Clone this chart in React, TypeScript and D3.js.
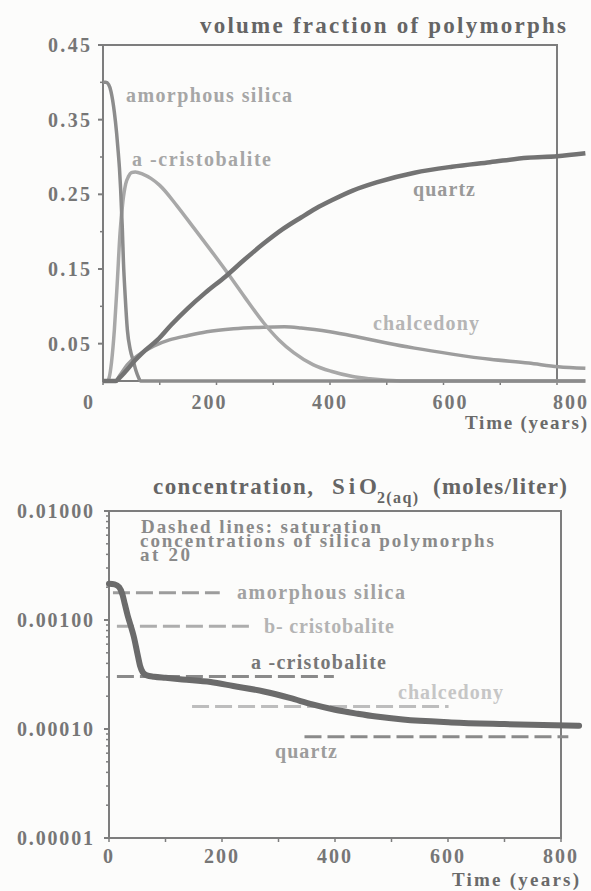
import React from 'react';
import * as d3 from 'd3';

// ---------- Top chart: volume fraction of polymorphs ----------
const amorphousT = [0, 5, 10, 14, 17, 20, 24, 27, 29, 31, 34, 36, 39, 43, 48, 53, 58, 63, 66, 100, 300, 500, 850];
const amorphousV = [0.40, 0.40, 0.397, 0.388, 0.376, 0.36, 0.332, 0.305, 0.285, 0.258, 0.205, 0.16, 0.115, 0.068, 0.042, 0.028, 0.014, 0.004, 0, 0, 0, 0, 0];

const alphaCrisT = [0, 8, 11, 15, 20, 25, 30, 35, 40, 45, 50, 57, 70, 85, 100, 130, 160, 190, 223, 250, 283, 310, 336, 370, 402, 440, 470, 500, 530, 850];
const alphaCrisV = [0, 0, 0.005, 0.025, 0.068, 0.13, 0.198, 0.24, 0.264, 0.274, 0.279, 0.28, 0.277, 0.271, 0.262, 0.235, 0.205, 0.175, 0.141, 0.112, 0.078, 0.055, 0.038, 0.022, 0.013, 0.006, 0.003, 0.001, 0, 0];

const quartzT = [0, 22, 30, 40, 57, 70, 96, 120, 149, 180, 216, 250, 283, 316, 349, 375, 403, 440, 482, 549, 615, 682, 748, 800, 850];
const quartzV = [0, 0, 0.005, 0.013, 0.028, 0.038, 0.055, 0.075, 0.097, 0.118, 0.14, 0.163, 0.184, 0.203, 0.219, 0.231, 0.242, 0.255, 0.266, 0.279, 0.287, 0.293, 0.299, 0.301, 0.305];

const chalcedonyT = [0, 22, 30, 43, 63, 90, 117, 150, 183, 230, 283, 320, 349, 400, 449, 500, 549, 615, 682, 750, 802, 850];
const chalcedonyV = [0, 0, 0.008, 0.022, 0.035, 0.047, 0.055, 0.061, 0.066, 0.070, 0.072, 0.0725, 0.071, 0.066, 0.059, 0.051, 0.044, 0.036, 0.029, 0.024, 0.019, 0.017];

const topYTicks = [0.05, 0.15, 0.25, 0.35, 0.45];
const topYMinor = [0.10, 0.20, 0.30, 0.40];
const xTickLabels = [0, 200, 400, 600, 800];
const xTickAll = [0, 100, 200, 300, 400, 500, 600, 700, 800];

// ---------- Bottom chart: SiO2(aq) concentration ----------
const concT = [0, 10, 18, 24, 28, 33, 38, 44, 50, 55, 60, 67, 80, 100, 130, 180, 220, 274, 320, 360, 400, 440, 473, 520, 606, 700, 832];
const concV = [0.00215, 0.00212, 0.0020, 0.0017, 0.0014, 0.0011, 0.0009, 0.0007, 0.0005, 0.00038, 0.00033, 0.00031, 0.000302, 0.000295, 0.000285, 0.00027, 0.000248, 0.000221, 0.000193, 0.000168, 0.00015, 0.000138, 0.00013, 0.000122, 0.000115, 0.000111, 0.000107];

const satNames = ['amorphous  silica', 'b- cristobalite', 'a  -cristobalite', 'chalcedony', 'quartz'];
const satValues = [0.00178, 0.000875, 0.000303, 0.000161, 0.0000851];
const satStart = [7, 14, 14, 147, 346];
const satEnd = [196, 251, 398, 601, 813];

const botYTicks = [0.00001, 0.0001, 0.001, 0.01];

const FONT = 'Liberation Serif, Times New Roman, serif';

export default function App() {
  const xTop = d3.scaleLinear().domain([0, 800]).range([103, 557]);
  const xTopLab = d3.scaleLinear().domain([0, 800]).range([89, 571]);
  const yTop = d3.scaleLinear().domain([0, 0.45]).range([381, 45]);

  const xBot = d3.scaleLinear().domain([0, 800]).range([109, 561]);
  const yBot = d3.scaleLog().domain([0.00001, 0.01]).range([838, 511]);

  const mk = (ts: number[], vs: number[], x: any, y: any) =>
    d3.line<number>().x((_, i) => x(ts[i])).y((_, i) => y(vs[i])).curve(d3.curveMonotoneX)(ts) || '';

  const botMinor: number[] = [];
  [0.00001, 0.0001, 0.001].forEach((d) => {
    for (let k = 2; k <= 9; k++) botMinor.push(d * k);
  });

  const axisColor = '#7d7d7d';
  const labColor = '#767676';
  const fmtTop = d3.format('.2f');
  const fmtBot = d3.format('.5f');

  const T = (props: any) => <text fontFamily={FONT} fontWeight="bold" {...props} />;

  const topLabels = [
    { t: 'amorphous  silica', x: 126, y: 102, w: 166, c: '#a6a6a6' },
    { t: 'a  -cristobalite', x: 132, y: 166, w: 139, c: '#a6a6a6' },
    { t: 'quartz', x: 413, y: 196, w: 62, c: '#999999' },
    { t: 'chalcedony', x: 373, y: 330, w: 106, c: '#b5b5b5' },
  ];
  const satLabelPos = [
    { x: 237, y: 599, w: 168, c: '#a2a2a2' },
    { x: 264, y: 633, w: 130, c: '#b4b4b4' },
    { x: 251, y: 669, w: 135, c: '#777777' },
    { x: 398, y: 699, w: 105, c: '#c6c6c6' },
    { x: 275, y: 758, w: 62, c: '#9c9c9c' },
  ];
  const satDashColor = ['#9c9c9c', '#adadad', '#8a8a8a', '#bdbdbd', '#8a8a8a'];

  return (
    <svg width={591} height={891} style={{ position: 'absolute', left: 0, top: 0, background: '#fcfcfb' }}>
      {/* ================= TOP CHART ================= */}
      <T x={200} y={33} textLength={366} lengthAdjust="spacing" fontSize={23} fill="#656565">
        volume  fraction  of  polymorphs
      </T>
      <rect x={xTop(0)} y={yTop(0.45)} width={xTop(800) - xTop(0)} height={yTop(0) - yTop(0.45)} fill="none" stroke={axisColor} strokeWidth={2} />
      {topYTicks.map((v) => (
        <g key={'ty' + v}>
          <line x1={xTop(0) - 5} x2={xTop(0)} y1={yTop(v)} y2={yTop(v)} stroke={axisColor} strokeWidth={2} />
          <T x={48} y={yTop(v) + 7} textLength={42} lengthAdjust="spacing" fontSize={20} fill={labColor}>
            {fmtTop(v)}
          </T>
        </g>
      ))}
      {topYMinor.map((v) => (
        <line key={'tym' + v} x1={xTop(0) - 3} x2={xTop(0)} y1={yTop(v)} y2={yTop(v)} stroke={axisColor} strokeWidth={1.5} />
      ))}
      {xTickAll.map((v) => (
        <line key={'tx' + v} x1={xTop(v)} x2={xTop(v)} y1={yTop(0)} y2={yTop(0) + 4} stroke={axisColor} strokeWidth={1.5} />
      ))}
      {xTickLabels.map((v) => (
        <T key={'txl' + v} x={xTopLab(v)} y={409} textAnchor="middle" fontSize={20} letterSpacing={2} fill={labColor}>
          {v}
        </T>
      ))}
      <T x={465} y={429} textLength={122} lengthAdjust="spacing" fontSize={19} fill="#6a6a6a">
        Time  (years)
      </T>

      <path d={mk(chalcedonyT, chalcedonyV, xTop, yTop)} fill="none" stroke="#9d9d9d" strokeWidth={3.5} strokeLinejoin="round" />
      <path d={mk(alphaCrisT, alphaCrisV, xTop, yTop)} fill="none" stroke="#a8a8a8" strokeWidth={3.5} strokeLinejoin="round" />
      <path d={mk(amorphousT, amorphousV, xTop, yTop)} fill="none" stroke="#8c8c8c" strokeWidth={3.5} strokeLinejoin="round" />
      <path d={mk(quartzT, quartzV, xTop, yTop)} fill="none" stroke="#737373" strokeWidth={4.5} strokeLinejoin="round" />

      {topLabels.map((l) => (
        <T key={l.t} x={l.x} y={l.y} textLength={l.w} lengthAdjust="spacing" fontSize={20} fill={l.c}>
          {l.t}
        </T>
      ))}

      {/* ================= BOTTOM CHART ================= */}
      <T x={153} y={494} textLength={160} lengthAdjust="spacing" fontSize={23} fill="#656565">concentration,</T>
      <T x={332} y={494} textLength={45} lengthAdjust="spacing" fontSize={23} fill="#656565">SiO</T>
      <T x={377} y={503} textLength={41} lengthAdjust="spacing" fontSize={16} fill="#656565">2(aq)</T>
      <T x={433} y={494} textLength={134} lengthAdjust="spacing" fontSize={23} fill="#656565">(moles/liter)</T>

      <rect x={xBot(0)} y={yBot(0.01)} width={xBot(800) - xBot(0)} height={yBot(0.00001) - yBot(0.01)} fill="none" stroke={axisColor} strokeWidth={2} />
      {botYTicks.map((v) => (
        <g key={'by' + v}>
          <line x1={xBot(0) - 5} x2={xBot(0)} y1={yBot(v)} y2={yBot(v)} stroke={axisColor} strokeWidth={2} />
          <T x={17} y={yBot(v) + 7} textLength={76} lengthAdjust="spacing" fontSize={20} fill={labColor}>
            {fmtBot(v)}
          </T>
        </g>
      ))}
      {botMinor.map((v) => (
        <line key={'bym' + v} x1={xBot(0) - 3} x2={xBot(0)} y1={yBot(v)} y2={yBot(v)} stroke={axisColor} strokeWidth={1.5} />
      ))}
      {xTickAll.map((v) => (
        <line key={'bx' + v} x1={xBot(v)} x2={xBot(v)} y1={yBot(0.00001)} y2={yBot(0.00001) + 4} stroke={axisColor} strokeWidth={1.5} />
      ))}
      {xTickLabels.map((v) => (
        <T key={'bxl' + v} x={xBot(v)} y={863} textAnchor="middle" fontSize={20} letterSpacing={2} fill={labColor}>
          {v}
        </T>
      ))}
      <T x={452} y={886} textLength={127} lengthAdjust="spacing" fontSize={19} fill="#6a6a6a">
        Time  (years)
      </T>

      <T x={141} y={533} textLength={240} lengthAdjust="spacing" fontSize={19} fill="#8a8a8a">Dashed  lines:  saturation</T>
      <T x={140} y={547} textLength={354} lengthAdjust="spacing" fontSize={19} fill="#8a8a8a">concentrations  of  silica  polymorphs</T>
      <T x={140} y={561} textLength={50} lengthAdjust="spacing" fontSize={19} fill="#8a8a8a">at  20</T>

      {satValues.map((v, i) => (
        <line key={'sat' + i} x1={xBot(satStart[i])} x2={xBot(satEnd[i])} y1={yBot(v)} y2={yBot(v)} stroke={satDashColor[i]} strokeWidth={3} strokeDasharray="17,6" />
      ))}

      <path d={mk(concT, concV, xBot, yBot)} fill="none" stroke="#6b6b6b" strokeWidth={6} strokeLinejoin="round" strokeLinecap="round" />

      {satNames.map((n, i) => (
        <T key={'sl' + i} x={satLabelPos[i].x} y={satLabelPos[i].y} textLength={satLabelPos[i].w} lengthAdjust="spacing" fontSize={20} fill={satLabelPos[i].c}>
          {n}
        </T>
      ))}
    </svg>
  );
}
